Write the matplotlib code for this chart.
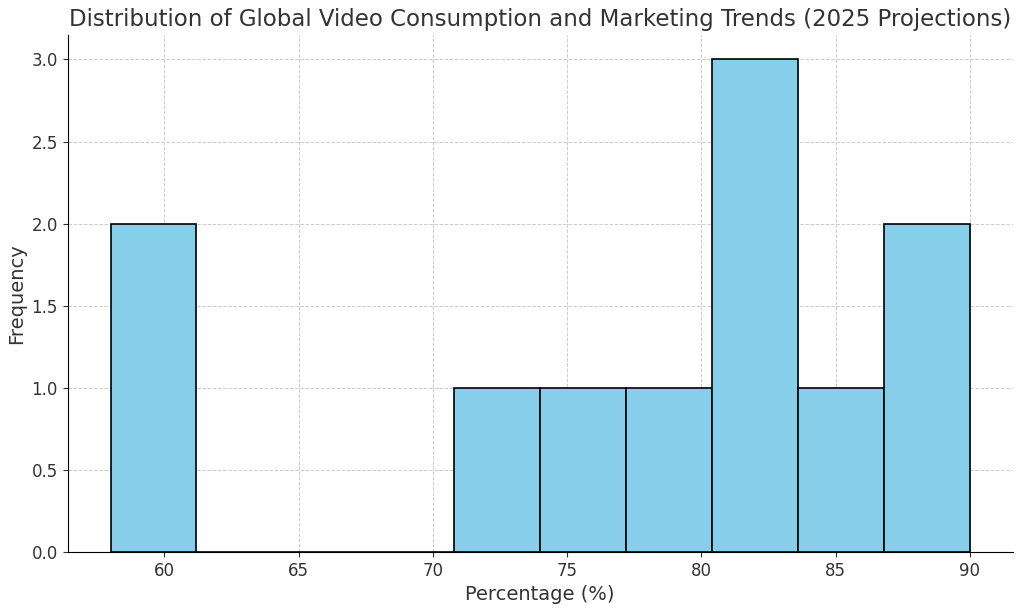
import matplotlib
matplotlib.use("Agg")
from matplotlib import pyplot as plt

# percentage values
values = [58, 60, 72, 75, 78, 82, 82, 83, 85, 88, 90]
n_bins = 10

title = "Distribution of Global Video Consumption and Marketing Trends (2025 Projections)"
xlabel = "Percentage (%)"
ylabel = "Frequency"

plt.rcParams['text.color'] = '#333333'
plt.rcParams['axes.labelcolor'] = '#333333'
plt.rcParams['xtick.color'] = '#333333'
plt.rcParams['ytick.color'] = '#333333'

fig, ax = plt.subplots(figsize=(10.24, 6.1), dpi=100)
ax.hist(values, bins=n_bins, color='skyblue', edgecolor='black', linewidth=1.2, zorder=3)
ax.set_title(title, fontsize=16.5)
ax.set_xlabel(xlabel, fontsize=14)
ax.set_ylabel(ylabel, fontsize=14)
ax.tick_params(labelsize=12)
ax.grid(True, linestyle='--', color='#cccccc', linewidth=0.7, zorder=0)
ax.spines['top'].set_visible(False)
ax.spines['right'].set_visible(False)
fig.subplots_adjust(left=0.066, right=0.989, top=0.943, bottom=0.095)
fig.savefig("out.png")
